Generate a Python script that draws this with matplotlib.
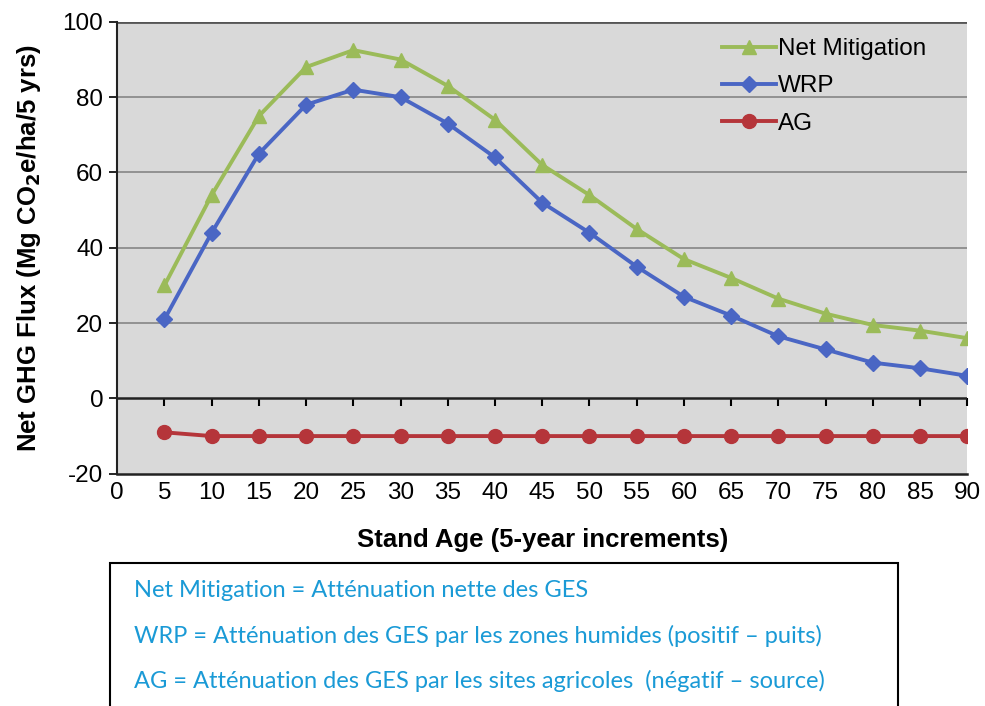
import matplotlib.pyplot as plt
from matplotlib.patches import Rectangle

# stand age (years) and GHG flux series
stand_age = [5, 10, 15, 20, 25, 30, 35, 40, 45, 50, 55, 60, 65, 70, 75, 80, 85, 90]
net_mitigation = [30, 54, 75, 88, 92.5, 90, 83, 74, 62, 54, 45, 37, 32, 26.5, 22.5, 19.5, 18, 16]
wrp = [21, 44, 65, 78, 82, 80, 73, 64, 52, 44, 35, 27, 22, 16.5, 13, 9.5, 8, 6]
ag = [-9, -10, -10, -10, -10, -10, -10, -10, -10, -10, -10, -10, -10, -10, -10, -10, -10, -10]

x_ticks = list(range(0, 95, 5))
y_ticks = [-20, 0, 20, 40, 60, 80, 100]

notes = [
    "Net Mitigation = Atténuation nette des GES",
    "WRP = Atténuation des GES par les zones humides (positif \u2013 puits)",
    "AG = Atténuation des GES par les sites agricoles  (négatif \u2013 source)",
]

plt.rcParams['font.family'] = ['Liberation Sans', 'DejaVu Sans']
plt.rcParams['axes.unicode_minus'] = False

fig = plt.figure(figsize=(9.85, 7.06), dpi=100)
ax = fig.add_axes([0.119, 0.329, 0.863, 0.640])
ax.set_facecolor('#d9d9d9')

ax.plot(stand_age, net_mitigation, color='#9bbb59', marker='^', markersize=10,
        linewidth=2.8, label='Net Mitigation', zorder=4)
ax.plot(stand_age, wrp, color='#4a66c4', marker='D', markersize=8,
        linewidth=2.8, label='WRP', zorder=4)
ax.plot(stand_age, ag, color='#b5353a', marker='o', markersize=10,
        linewidth=2.8, label='AG', zorder=4)

ax.set_xlim(0, 90)
ax.set_ylim(-20, 100)
ax.set_yticks(y_ticks)
ax.set_xticks(x_ticks)
ax.tick_params(axis='y', direction='out', length=6, width=1.2, labelsize=17.5, pad=4)
ax.tick_params(axis='x', length=0, labelsize=17.5, pad=6)

for v in [20, 40, 60, 80]:
    ax.axhline(v, color='#8c8c8c', linewidth=1.3, zorder=1)
ax.axhline(100, color='#555555', linewidth=2, zorder=1)
ax.axhline(0, color='#222222', linewidth=1.8, zorder=2)

# category axis ticks hanging down from the zero line
sec = ax.secondary_xaxis(1 / 6)
sec.set_xticks(x_ticks[1:])
sec.tick_params(axis='x', direction='out', length=6, width=1.5, labelbottom=False,
                labeltop=False, bottom=True, top=False)
sec.spines['bottom'].set_visible(False)
sec.spines['top'].set_visible(False)

ax.spines['top'].set_visible(False)
ax.spines['right'].set_visible(False)
ax.spines['left'].set_color('#222222')
ax.spines['left'].set_linewidth(1.5)
ax.spines['bottom'].set_color('#222222')
ax.spines['bottom'].set_linewidth(1.8)

ax.set_ylabel('Net GHG Flux (Mg CO$_\\mathbf{2}$e/ha/5 yrs)', fontsize=18.5,
              fontweight='bold', labelpad=14)
ax.set_xlabel('Stand Age (5-year increments)', fontsize=18.5, fontweight='bold', labelpad=17)

ax.legend(loc='upper left', bbox_to_anchor=(0.686, 1.012), frameon=False, fontsize=17.5,
          handlelength=2.2, handletextpad=0.1, labelspacing=0.62, borderpad=0.4)

# note box under the chart
box = Rectangle((0.112, -0.02), 0.80, 0.223, transform=fig.transFigure,
                facecolor='white', edgecolor='black', linewidth=1.5)
fig.patches.append(box)
for i, line in enumerate(notes):
    fig.text(0.136, 0.163 - i * 0.064, line, fontsize=17, color='#1a9ad6',
             family=['Lato', 'DejaVu Sans'], va='center')

fig.savefig('out.png', dpi=100)
